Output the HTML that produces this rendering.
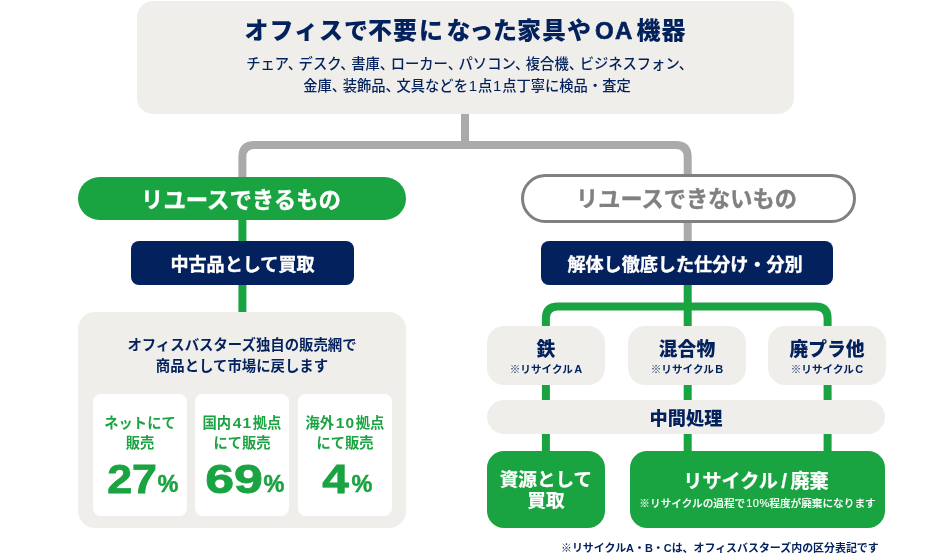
<!DOCTYPE html>
<html lang="ja">
<head>
<meta charset="utf-8">
<title>リユース・リサイクルの流れ</title>
<style>
html,body{margin:0;padding:0;background:#fff;}
body{width:930px;height:554px;position:relative;overflow:hidden;font-family:"Liberation Sans","Noto Sans CJK JP",sans-serif;color:#03215d;}
.abs{position:absolute;box-sizing:border-box;}
.c{text-align:center;white-space:nowrap;}
.beige{background:#efeeea;}
.navy{background:#03215d;color:#fff;}
.green{background:#1aa341;color:#fff;}
.g{color:#1aa341;}
.b{font-weight:700;}
.k{font-weight:900;}
.p{margin-right:-3.4px;}
.s{-webkit-text-stroke-width:0.35px;}
.card{background:#fff;border-radius:7.5px;top:393.6px;width:94px;height:122.6px;}
.lab{top:412.5px;width:94px;font-size:14.3px;line-height:20.7px;}
.num{top:454.5px;width:94px;font-size:41.5px;line-height:48px;-webkit-text-stroke:0.8px #1aa341;}
.num span{display:inline-block;transform-origin:50% 50%;}
.num i{font-style:normal;font-size:24.5px;display:inline-block;transform:scaleX(0.96);-webkit-text-stroke:0.5px #1aa341;position:relative;top:-1px;margin-left:-1px;}
.d{font-size:15.5px;letter-spacing:1.2px;margin:0 0.5px 0 1.5px;}
.mat{top:326px;width:118px;height:58.8px;border-radius:17px;}
.mt{width:118px;top:335.8px;font-size:18.8px;line-height:28px;}
.ms{width:118px;top:361px;font-size:10.6px;line-height:16px;}
svg{position:absolute;left:0;top:0;}
</style>
</head>
<body>
<svg width="930" height="554" viewBox="0 0 930 554" fill="none">
  <!-- gray connectors -->
  <path d="M465 110 V145" stroke="#aaaaaa" stroke-width="8"/>
  <path d="M242.4 180 V157.1 Q242.4 145.1 254.4 145.1 H675.7 Q687.7 145.1 687.7 157.1 V180" stroke="#aaaaaa" stroke-width="8"/>
  <path d="M687.7 218 V245" stroke="#aaaaaa" stroke-width="8"/>
  <!-- green connectors -->
  <path d="M242.4 218 V316" stroke="#1aa341" stroke-width="8"/>
  <path d="M687.7 283 V455" stroke="#1aa341" stroke-width="8"/>
  <path d="M545.9 455 V318.4 Q545.9 306.4 557.9 306.4 H815.6 Q827.6 306.4 827.6 318.4 V455" stroke="#1aa341" stroke-width="8"/>
</svg>

<div class="abs beige" style="left:136.5px;top:0.5px;width:657px;height:113px;border-radius:16px;"></div>
<div class="abs c k" style="left:137px;width:657px;top:10.5px;font-size:24px;line-height:40px;letter-spacing:1px;">オフィスで<span style="margin-left:-1px">不</span>要<span style="margin-left:1px">に</span><span style="margin-left:2.5px">な</span><span style="margin:0 -1.1px 0 -2.4px">っ</span><span style="margin-right:-1.1px">た</span>家具や<span style="margin:0 3px 0 3.1px;letter-spacing:1.2px;-webkit-text-stroke:0.65px #03215d;">OA</span>機器</div>
<div class="abs c" style="left:138.5px;width:657px;top:53px;font-size:14.3px;line-height:22.3px;font-weight:500;"><span style="position:relative;left:1px">チェア<span class="p">、</span>デスク<span class="p">、</span>書庫<span class="p">、</span>ローカー<span class="p">、</span>パソコン<span class="p">、</span>複合機<span class="p">、</span>ビジネスフォン<span class="p">、</span></span><br>金庫<span class="p">、</span>装飾品<span class="p">、</span>文具などを<span style="margin:0 0.8px;font-size:15px">1</span>点<span style="margin:0 0.8px;font-size:15px">1</span>点丁寧に検品・査定</div>

<div class="abs green c b s" style="left:78px;top:177px;width:328px;height:43px;border-radius:22px;font-size:22.4px;line-height:47.5px;padding-right:2px;">リユースできるもの</div>
<div class="abs navy c b s" style="left:131px;top:241px;width:223px;height:43.5px;border-radius:8px;font-size:18.1px;line-height:49px;">中古品として買取</div>

<div class="abs beige" style="left:78px;top:312px;width:328px;height:215.8px;border-radius:17px;"></div>
<div class="abs c b" style="left:78px;width:328px;top:334.5px;font-size:14.4px;line-height:21.4px;">オフィスバスターズ独自の販売網で<br>商品として市場に戻します</div>

<div class="abs card" style="left:93px;"></div>
<div class="abs card" style="left:195px;"></div>
<div class="abs card" style="left:298px;"></div>
<div class="abs c b g lab" style="left:93px;">ネットにて<br>販売</div>
<div class="abs c b g lab" style="left:195px;">国内<span class="d">41</span>拠点<br>にて販売</div>
<div class="abs c b g lab" style="left:298px;">海外<span class="d">10</span>拠点<br>にて販売</div>
<div class="abs c b g num" style="left:93px;padding-left:5px;"><span style="transform:scaleX(1.08);margin:0 3px 0 2px">27</span><i>%</i></div>
<div class="abs c b g num" style="left:195px;padding-left:5px;"><span style="transform:scaleX(1.25);margin:0 7px 0 6px">69</span><i>%</i></div>
<div class="abs c b g num" style="left:298px;padding-left:5px;"><span style="transform:scaleX(1.15);margin:0 5px 0 1px">4</span><i>%</i></div>

<div class="abs c b s" style="left:521px;top:174px;width:335px;height:49px;border-radius:25px;border:3px solid #808080;background:#fff;color:#808080;font-size:22.2px;line-height:46px;padding-right:4px;">リユースできないもの</div>
<div class="abs navy c b s" style="left:541px;top:241px;width:292px;height:43.5px;border-radius:8px;font-size:18.1px;line-height:49px;padding-right:4px;">解体し徹底した仕分け・分別</div>

<div class="abs beige mat" style="left:487px;"></div>
<div class="abs beige mat" style="left:628px;"></div>
<div class="abs beige mat" style="left:768px;"></div>
<div class="abs c k mt" style="left:487px;">鉄</div>
<div class="abs c k mt" style="left:628px;">混合物</div>
<div class="abs c k mt" style="left:768px;">廃プラ他</div>
<div class="abs c b ms" style="left:487px;">※リサイクル<span style="margin-left:1.5px;font-size:11px">A</span></div>
<div class="abs c b ms" style="left:628px;">※リサイクル<span style="margin-left:1.5px;font-size:11px">B</span></div>
<div class="abs c b ms" style="left:768px;">※リサイクル<span style="margin-left:1.5px;font-size:11px">C</span></div>

<div class="abs beige c k" style="left:487px;top:400px;width:398px;height:33.5px;border-radius:17px;font-size:18.2px;line-height:38.5px;">中間処理</div>

<div class="abs green c b" style="left:487px;top:450.5px;width:117.8px;height:77.5px;border-radius:17px;font-size:18.6px;line-height:21.7px;padding-top:18px;-webkit-text-stroke-width:0.25px;">資源として<br>買取</div>
<div class="abs green" style="left:629.6px;top:450.5px;width:255.8px;height:77.5px;border-radius:17px;"></div>
<div class="abs c b" style="left:628.5px;width:255px;top:466px;font-size:19.1px;line-height:30px;color:#fff;-webkit-text-stroke-width:0.25px;">リサイクル<span style="margin:0 3.5px;font-size:20.5px">/</span>廃棄</div>
<div class="abs c b" style="left:630px;width:255px;top:495px;font-size:10.65px;line-height:16px;color:#fff;font-weight:500;-webkit-text-stroke-width:0.15px;">※リサイクルの過程で<span style="margin:0 -0.5px 0 1px;letter-spacing:0.5px;font-size:11px">10%</span>程度が廃棄になります</div>

<div class="abs b" style="left:561px;top:540px;font-size:10.95px;line-height:16px;white-space:nowrap;">※リサイクルA・B・Cは、オフィスバスターズ内の区分表記です</div>
</body>
</html>
